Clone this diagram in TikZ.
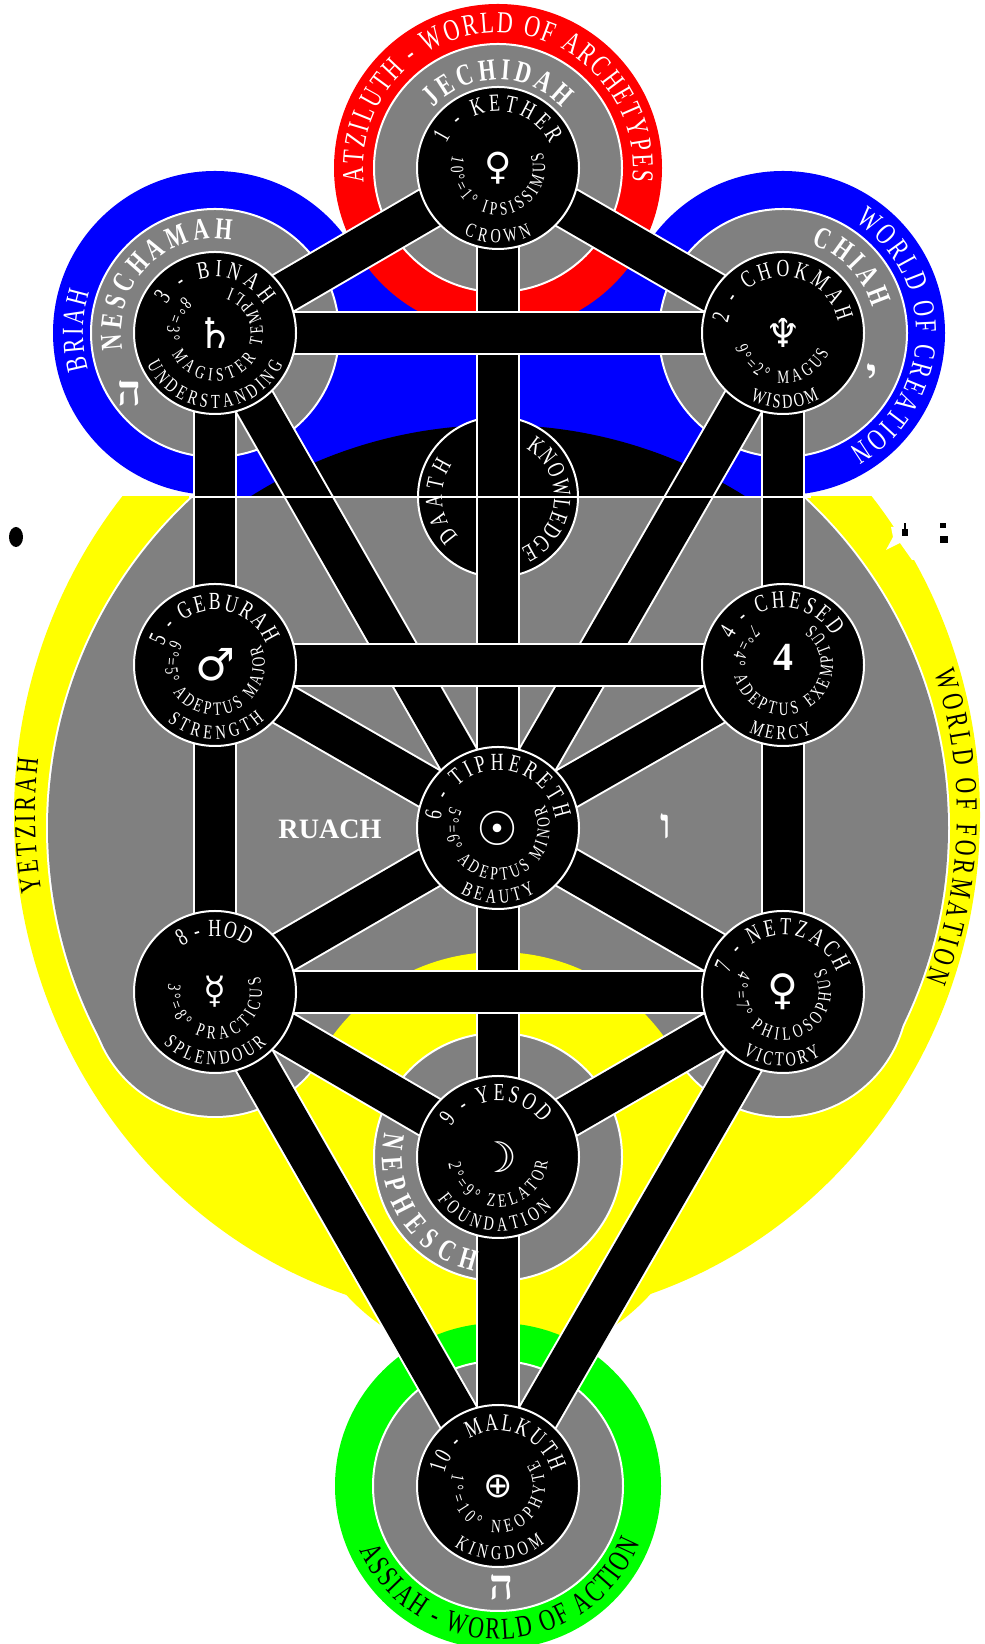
\documentclass[tikz,border=0pt]{standalone}
\usepackage{fontspec}
\setmainfont{Liberation Serif}
\newfontfamily\narrowfont[FakeStretch=0.72]{Liberation Serif}
\newfontfamily\planetfont{DejaVu Sans}
\newfontfamily\hebfont[Script=Hebrew]{Liberation Serif}
\TeXXeTstate=1
\usetikzlibrary{decorations.text}
\definecolor{AtzRed}{RGB}{255,0,0}
\definecolor{BriBlue}{RGB}{0,0,255}
\definecolor{YetYellow}{RGB}{255,255,0}
\definecolor{AssGreen}{RGB}{0,255,0}
\definecolor{SoulGray}{RGB}{128,128,128}
\pgfdeclarelayer{regions}
\pgfdeclarelayer{bars}
\pgfsetlayers{regions,bars,main}
\newcommand{\namefont}{\narrowfont\fontsize{21}{21}\selectfont\color{white}}
\newcommand{\gradefont}{\narrowfont\fontsize{16}{16}\selectfont\color{white}}
\newcommand{\titlefont}{\narrowfont\fontsize{17}{17}\selectfont\color{white}}
\newcommand{\soulfont}{\narrowfont\bfseries\fontsize{26}{26}\selectfont\color{white}}
\newcommand{\worldfont}{\narrowfont\fontsize{26}{26}\selectfont\color{white}}
\newcommand{\darkfont}{\narrowfont\fontsize{26}{26}\selectfont\color{black}}
% centre, radius, start angle, end angle, font, text
\newcommand{\ringtext}[6]{\path[decorate,decoration={text along path,
    text align=fit to path,text={|#5|#6}}] (#1.center) ++(#3:#2) arc (#3:#4:#2);}
\tikzset{
  sephdisc/.style={circle, fill=black, draw=white, line width=0.06cm,
                   minimum size=4.86cm, inner sep=0pt, text=white},
  soulring/.style={fill=SoulGray, draw=white, line width=0.06cm},
  barwhite/.style={draw=white, line width=1.32cm, shorten >=-12pt, shorten <=-12pt},
  barblack/.style={draw=black, line width=1.2cm, shorten >=-12pt, shorten <=-12pt},
  hebrew/.style={text=white, font=\hebfont\bfseries\fontsize{36}{36}\selectfont, inner sep=0pt}
}
\begin{document}
\begin{tikzpicture}[x=0.03cm, y=0.03cm]
\useasboundingbox (0,0) rectangle (985,1644);

% the ten spheres
\node[sephdisc] (kether)   at (498,1476) {\planetfont\fontsize{32}{32}\selectfont ♀};
\node[sephdisc] (chokmah)  at (783,1311) {\planetfont\fontsize{34}{34}\selectfont ♆};
\node[sephdisc] (binah)    at (215,1311) {\planetfont\fontsize{36}{36}\selectfont\bfseries ♄};
\node[sephdisc] (chesed)   at (783,979)  {\raisebox{-0.17cm}[0pt][0pt]{\bfseries\fontsize{34}{34}\selectfont 4}};
\node[sephdisc] (geburah)  at (215,979)  {\planetfont\fontsize{38}{38}\selectfont\bfseries ♂};
\node[sephdisc] (tiphereth) at (498,816) {\planetfont\fontsize{40}{40}\selectfont\bfseries ☉};
\node[sephdisc] (netzach)  at (783,652)  {\planetfont\fontsize{36}{36}\selectfont ♀};
\node[sephdisc] (hod)      at (215,652)  {\planetfont\fontsize{32}{32}\selectfont ☿};
\node[sephdisc] (yesod)    at (498,487)  {\planetfont\fontsize{36}{36}\selectfont\bfseries ☽};
\node[sephdisc] (malkuth)  at (498,158)  {\planetfont\fontsize{30}{30}\selectfont ⊕};
\coordinate (worldcentre) at (497,829);
\coordinate (abyssleft) at (189,1147);
\coordinate (abyssright) at (811,1147);

\begin{pgfonlayer}{regions}
  % Yetzirah and Ruach, below the white line
  \begin{scope}
    \clip (0,0) rectangle (985,1147);
    \fill[YetYellow] (worldcentre) ellipse (483 and 505);
  \end{scope}
  \fill[white] (891,1117) -- (893,1107) -- (886,1094) -- (900,1101) -- (912,1084)
        -- (940,1084) -- (940,1117) -- cycle;
  \begin{scope}
    \clip (0,1147) rectangle (985,604);
    \fill[white] (498,816) circle (452);
  \end{scope}
  \fill[white] (hod.center) circle (126) (netzach.center) circle (126);
  \begin{scope}
    \clip (0,1147) rectangle (985,604);
    \fill[SoulGray] (498,816) circle (450);
  \end{scope}
  \fill[SoulGray] (hod.center) circle (124) (netzach.center) circle (124);
  % Nephesch
  \fill[YetYellow] (yesod.center) circle (205);
  \filldraw[soulring] (yesod.center) circle (124);
  % Assiah
  \begin{scope}
    \clip (0,0) rectangle (985,1147);
    \fill[AssGreen] (malkuth.center) circle (163);
  \end{scope}
  \filldraw[soulring] (malkuth.center) circle (125);
  % Briah, above the white line
  \begin{scope}
    \clip (0,1147) rectangle (985,1644);
    \fill[BriBlue] (binah.center) circle (162) (chokmah.center) circle (162);
    \fill[BriBlue] (binah.center) -- (kether.center) -- (chokmah.center)
          -- (783,1147) -- (215,1147) -- cycle;
    \fill[black] (498,755) circle (464);
  \end{scope}
  \fill[AtzRed] (kether.center) circle (164);
  \filldraw[soulring] (kether.center) circle (124);
  \filldraw[soulring] (binah.center) circle (124);
  \filldraw[soulring] (chokmah.center) circle (124);
  \node[sephdisc, minimum size=4.8cm] (daath) at (498,1147) {};
\end{pgfonlayer}

\begin{pgfonlayer}{bars}
  \def\barlist{kether/chokmah, kether/binah, kether/tiphereth, chokmah/chesed,
    binah/geburah, chokmah/tiphereth, binah/tiphereth, chesed/tiphereth,
    geburah/tiphereth, chesed/netzach, geburah/hod, tiphereth/netzach,
    tiphereth/hod, tiphereth/yesod, netzach/yesod, hod/yesod, netzach/malkuth,
    hod/malkuth, yesod/malkuth}
  \foreach \a/\b in \barlist { \draw[barwhite] (\a) -- (\b); }
  \foreach \a/\b in \barlist { \draw[barblack] (\a) -- (\b); }
  % horizontal paths lie over the others
  \foreach \a/\b in {binah/chokmah, geburah/chesed, hod/netzach} {
    \draw[barwhite] (\a) -- (\b);
    \draw[barblack] (\a) -- (\b);
  }
  \draw[white, line width=0.08cm] (abyssleft) -- (abyssright);
\end{pgfonlayer}

% Kether
\ringtext{kether}{57}{155}{25}{\namefont}{1 - KETHER}
\ringtext{kether}{47}{165}{380}{\gradefont}{10°=1° IPSISSIMUS}
\ringtext{kether}{75}{243}{297}{\titlefont}{CROWN}
% Chokmah
\ringtext{chokmah}{56}{170}{12}{\namefont}{2 - CHOKMAH}
\ringtext{chokmah}{50}{197}{337}{\gradefont}{9°=2° MAGUS}
\ringtext{chokmah}{75}{244}{299}{\titlefont}{WISDOM}
% Binah
\ringtext{binah}{56}{150}{30}{\namefont}{3 - BINAH}
\ringtext{binah}{48}{130}{431}{\gradefont}{8°=3° MAGISTER TEMPLI}
\ringtext{binah}{75}{205}{335}{\titlefont}{UNDERSTANDING}
% Chesed
\ringtext{chesed}{57}{153}{30}{\namefont}{4 - CHESED}
\ringtext{chesed}{50}{127}{414}{\gradefont}{7°=4° ADEPTUS EXEMPTUS}
\ringtext{chesed}{75}{243}{293}{\titlefont}{MERCY}
% Geburah
\ringtext{geburah}{55}{160}{22}{\namefont}{5 - GEBURAH}
\ringtext{geburah}{50}{150}{384}{\gradefont}{6°=5° ADEPTUS MAJOR}
\ringtext{geburah}{74}{230}{312}{\titlefont}{STRENGTH}
% Tiphereth
\ringtext{tiphereth}{58}{173}{9}{\namefont}{6 - TIPHERETH}
\ringtext{tiphereth}{52}{156}{386}{\gradefont}{5°=6° ADEPTUS MINOR}
\ringtext{tiphereth}{75}{240}{300}{\titlefont}{BEAUTY}
% Netzach
\ringtext{netzach}{57}{161}{20}{\namefont}{7 - NETZACH}
\ringtext{netzach}{48}{154}{390}{\gradefont}{4°=7° PHILOSOPHUS}
\ringtext{netzach}{74}{237}{301}{\titlefont}{VICTORY}
% Hod
\ringtext{hod}{56}{126}{55}{\namefont}{8 - HOD}
\ringtext{hod}{47}{169}{379}{\gradefont}{3°=8° PRACTICUS}
\ringtext{hod}{73}{225}{315}{\titlefont}{SPLENDOUR}
% Yesod
\ringtext{yesod}{56}{147}{38}{\namefont}{9 - YESOD}
\ringtext{yesod}{50}{188}{355}{\gradefont}{2°=9° ZELATOR}
\ringtext{yesod}{74}{215}{317}{\titlefont}{FOUNDATION}
% Malkuth
\ringtext{malkuth}{55}{167}{15}{\namefont}{10 - MALKUTH}
\ringtext{malkuth}{47}{165}{393}{\gradefont}{1°=10° NEOPHYTE}
\ringtext{malkuth}{74}{234}{309}{\titlefont}{KINGDOM}
% Daath
\ringtext{daath}{56}{225}{145}{\namefont}{DAATH}
\ringtext{daath}{56}{60}{-66}{\namefont}{KNOWLEDGE}

% worlds and souls
\ringtext{kether}{135}{186}{-6}{\worldfont}{ATZILUTH - WORLD OF ARCHETYPES}
\ringtext{kether}{88}{137}{43}{\soulfont}{JECHIDAH}
\ringtext{binah}{132}{196}{162}{\worldfont}{BRIAH}
\ringtext{binah}{94}{190}{80}{\soulfont}{NESCHAMAH}
\ringtext{chokmah}{93}{72}{16}{\soulfont}{CHIAH}
\ringtext{chokmah}{133}{57}{-60}{\worldfont}{WORLD OF CREATION}
\ringtext{yesod}{116}{168}{258}{\soulfont}{NEPHESCH}
\ringtext{malkuth}{153}{205}{338}{\darkfont}{ASSIAH - WORLD OF ACTION}
\ringtext{worldcentre}{462}{189.5}{173}{\darkfont}{YETZIRAH}
\ringtext{worldcentre}{460}{18}{-21}{\darkfont}{WORLD OF FORMATION}
\node[text=white, font=\bfseries\fontsize{24}{24}\selectfont, inner sep=0pt] (ruach) at (330,815) {RUACH};

% the four letters
\node[hebrew] (yod) at (872,1268) {\beginR י\endR};
\node[hebrew] (he) at (130,1251) {\beginR ה\endR};
\node[hebrew] (vav) at (666,818) {\beginR ו\endR};
\node[hebrew] (hefinal) at (502,57) {\beginR ה\endR};

% stray marks in the margin
\fill[black] (16,1107) ellipse (7 and 10);
\fill[black] (902,1108) rectangle (908,1115);
\draw[black, line width=0.05cm] (905,1115) -- (905,1121);
\fill[black] (940,1116) rectangle (946,1121);
\fill[black] (940,1101) rectangle (948,1108);
\end{tikzpicture}
\end{document}
